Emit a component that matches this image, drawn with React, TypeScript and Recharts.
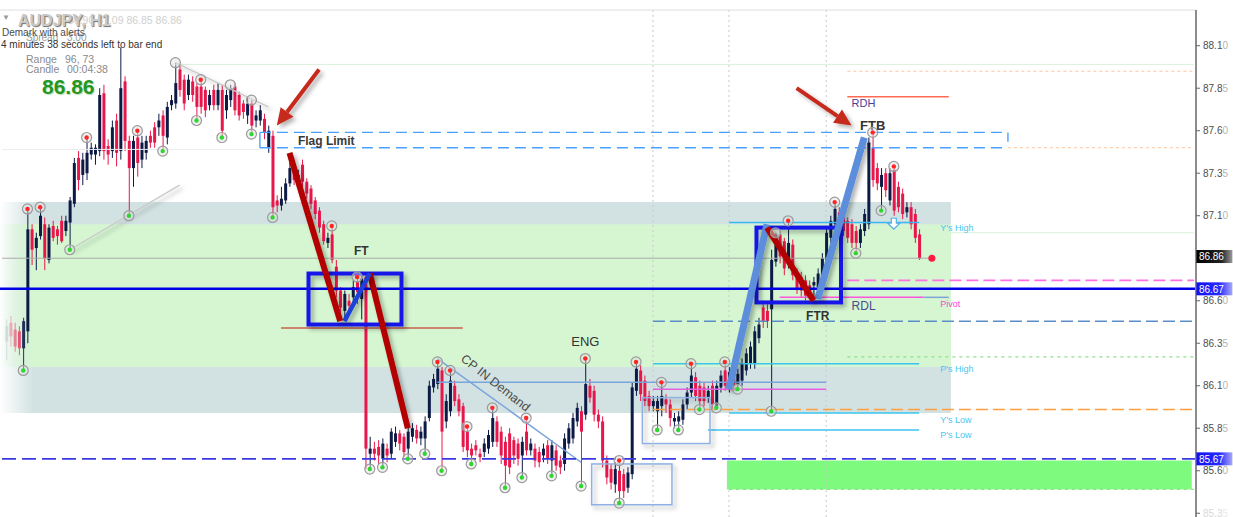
import React from 'react';
import {
  ComposedChart, Bar, Line, XAxis, YAxis,
  ReferenceArea, ReferenceLine, ReferenceDot,
} from 'recharts';

type Ohlc = [number, number, number, number]; // open, high, low, close

// AUDJPY H1 candles left to right
const leftRally: Ohlc[] = [
  [86.36, 86.49, 86.25, 86.45], [86.47, 86.51, 86.33, 86.39], [86.43, 86.47, 86.30, 86.33],
  [86.42, 86.45, 86.28, 86.32], [86.32, 86.50, 86.19, 86.48], [86.42, 87.14, 86.35, 87.02],
  [87.02, 87.05, 86.81, 86.90], [86.91, 87.00, 86.78, 86.97], [86.98, 87.15, 86.96, 87.10],
  [87.05, 87.09, 86.78, 86.85], [86.84, 87.05, 86.82, 87.03], [87.04, 87.07, 86.95, 86.97],
  [87.02, 87.04, 86.93, 86.98], [87.07, 87.10, 86.94, 86.95], [87.01, 87.10, 86.98, 87.07],
  [87.06, 87.21, 86.90, 87.19], [87.17, 87.44, 87.15, 87.41], [87.44, 87.48, 87.25, 87.31],
  [87.34, 87.47, 87.28, 87.43], [87.35, 87.56, 87.31, 87.47], [87.46, 87.53, 87.43, 87.50],
  [87.46, 87.52, 87.40, 87.50], [87.48, 87.85, 87.45, 87.81], [87.82, 87.87, 87.43, 87.48],
  [87.51, 87.55, 87.40, 87.46], [87.48, 87.66, 87.44, 87.62], [87.66, 87.70, 87.39, 87.47],
  [87.48, 88.09, 87.43, 87.85],
];

const topChop: Ohlc[] = [
  [87.89, 87.92, 87.48, 87.54], [87.54, 87.57, 87.10, 87.38], [87.38, 87.57, 87.27, 87.54],
  [87.56, 87.60, 87.33, 87.41], [87.43, 87.57, 87.38, 87.53], [87.47, 87.57, 87.43, 87.54],
  [87.57, 87.60, 87.50, 87.53], [87.62, 87.65, 87.50, 87.53], [87.62, 87.70, 87.57, 87.66],
  [87.69, 87.72, 87.48, 87.57], [87.56, 87.77, 87.52, 87.74], [87.75, 87.81, 87.72, 87.78],
  [87.76, 88.00, 87.73, 87.88], [87.96, 87.99, 87.80, 87.84], [87.90, 87.93, 87.72, 87.76],
  [87.81, 87.93, 87.78, 87.90], [87.89, 87.92, 87.77, 87.81], [87.86, 87.88, 87.66, 87.74],
  [87.86, 87.90, 87.70, 87.74], [87.84, 87.86, 87.68, 87.72], [87.75, 87.84, 87.72, 87.81],
  [87.84, 87.87, 87.72, 87.75], [87.75, 87.88, 87.72, 87.84], [87.84, 87.87, 87.56, 87.60],
  [87.72, 87.84, 87.67, 87.81], [87.78, 87.87, 87.74, 87.85], [87.86, 87.88, 87.69, 87.72],
  [87.81, 87.83, 87.66, 87.69], [87.76, 87.78, 87.67, 87.71], [87.69, 87.80, 87.64, 87.76],
  [87.76, 87.78, 87.58, 87.63], [87.66, 87.72, 87.62, 87.69], [87.66, 87.75, 87.63, 87.72],
  [87.67, 87.70, 87.55, 87.59], [87.50, 87.63, 87.47, 87.60],
];

const flagDrop: Ohlc[] = [
  [87.57, 87.60, 87.09, 87.15], [87.19, 87.22, 87.12, 87.16], [87.16, 87.27, 87.13, 87.20],
  [87.19, 87.32, 87.17, 87.29], [87.29, 87.42, 87.27, 87.38], [87.38, 87.42, 87.28, 87.31],
  [87.31, 87.37, 87.28, 87.34], [87.40, 87.43, 87.27, 87.30], [87.30, 87.32, 87.20, 87.23],
  [87.26, 87.28, 87.14, 87.17], [87.19, 87.21, 87.08, 87.11], [87.13, 87.15, 87.00, 87.03],
  [87.05, 87.07, 86.93, 86.95], [86.94, 87.00, 86.91, 86.97], [86.99, 87.04, 86.82, 86.84],
  [86.80, 86.84, 86.62, 86.66], [86.66, 86.68, 86.53, 86.56], [86.54, 86.66, 86.50, 86.64],
  [86.60, 86.64, 86.55, 86.57], [86.62, 86.72, 86.58, 86.68], [86.71, 86.74, 86.58, 86.65],
  [86.61, 86.76, 86.49, 86.73], [86.74, 86.77, 85.61, 85.73],
];

const demandBase: Ohlc[] = [
  [85.70, 85.80, 85.61, 85.73], [85.73, 85.77, 85.66, 85.70], [85.74, 85.78, 85.64, 85.69],
  [85.67, 85.79, 85.62, 85.76], [85.73, 85.76, 85.65, 85.69], [85.70, 85.85, 85.67, 85.83],
  [85.77, 85.86, 85.74, 85.82], [85.82, 85.84, 85.72, 85.76], [85.80, 85.82, 85.68, 85.71],
  [85.73, 85.86, 85.67, 85.83], [85.80, 85.88, 85.77, 85.85], [85.84, 85.87, 85.76, 85.79],
  [85.79, 85.86, 85.75, 85.83], [85.79, 85.92, 85.70, 85.89], [85.91, 86.13, 85.89, 86.10],
  [86.09, 86.17, 86.06, 86.14], [86.11, 86.24, 86.08, 86.20], [86.19, 86.21, 85.60, 85.83],
  [85.89, 86.05, 85.85, 86.01], [85.95, 86.19, 85.92, 86.13], [86.10, 86.13, 85.98, 86.01],
  [86.02, 86.05, 85.92, 85.95], [85.98, 86.00, 85.71, 85.74], [85.83, 85.86, 85.68, 85.72],
  [85.73, 85.76, 85.64, 85.69], [85.75, 85.78, 85.69, 85.72], [85.70, 85.73, 85.65, 85.68],
  [85.71, 85.79, 85.68, 85.76], [85.73, 85.84, 85.70, 85.81], [85.77, 85.97, 85.74, 85.91],
  [85.89, 85.92, 85.74, 85.77], [85.83, 85.86, 85.64, 85.69], [85.77, 85.80, 85.50, 85.63],
  [85.82, 85.85, 85.58, 85.62], [85.78, 85.80, 85.64, 85.69], [85.76, 85.79, 85.63, 85.67],
  [85.69, 85.80, 85.56, 85.77], [85.83, 85.91, 85.69, 85.72], [85.72, 85.79, 85.69, 85.76],
  [85.73, 85.76, 85.62, 85.66], [85.71, 85.74, 85.62, 85.65], [85.69, 85.76, 85.65, 85.73],
  [85.75, 85.78, 85.64, 85.67], [85.66, 85.78, 85.57, 85.75], [85.72, 85.75, 85.60, 85.63],
  [85.66, 85.69, 85.58, 85.62], [85.64, 85.82, 85.60, 85.79], [85.76, 85.88, 85.73, 85.85],
  [85.79, 85.94, 85.76, 85.91], [85.89, 86.00, 85.86, 85.97], [85.95, 85.98, 85.51, 85.83],
  [85.93, 86.26, 85.90, 86.11], [86.10, 86.14, 86.00, 86.03], [86.07, 86.10, 85.89, 85.93],
  [85.93, 85.96, 85.85, 85.89], [85.89, 85.92, 85.62, 85.66], [85.66, 85.69, 85.52, 85.56],
  [85.61, 85.64, 85.49, 85.53], [85.52, 85.65, 85.47, 85.61], [85.60, 85.66, 85.41, 85.48],
  [85.58, 85.61, 85.44, 85.48], [85.50, 85.62, 85.47, 85.59],
];

const reversal: Ohlc[] = [
  [85.58, 86.12, 85.55, 86.09], [86.07, 86.24, 86.04, 86.20], [86.19, 86.22, 86.01, 86.05],
  [86.13, 86.16, 85.98, 86.01], [86.04, 86.07, 85.95, 85.98], [85.98, 86.04, 85.95, 86.01],
  [85.95, 86.04, 85.84, 86.01], [85.98, 86.12, 85.92, 86.04], [86.02, 86.05, 85.94, 85.99],
  [85.99, 86.02, 85.86, 85.91], [85.89, 85.94, 85.85, 85.91], [85.89, 85.95, 85.84, 85.92],
  [85.90, 86.02, 85.87, 85.99], [85.99, 86.09, 85.96, 86.06], [86.06, 86.23, 86.03, 86.16],
  [86.15, 86.18, 86.01, 86.04], [86.10, 86.13, 85.96, 86.01], [86.09, 86.12, 85.98, 86.01],
  [86.03, 86.10, 86.00, 86.07], [86.10, 86.13, 85.96, 85.99], [85.98, 86.13, 85.97, 86.10],
  [86.09, 86.19, 86.06, 86.16], [86.19, 86.24, 86.07, 86.10], [86.09, 86.21, 86.06, 86.18],
  [86.16, 86.19, 86.07, 86.10], [86.11, 86.20, 86.08, 86.17], [86.13, 86.26, 86.10, 86.23],
  [86.19, 86.32, 86.16, 86.29], [86.23, 86.36, 86.20, 86.33], [86.23, 86.45, 86.20, 86.42],
  [86.38, 86.50, 86.35, 86.46], [86.56, 86.60, 86.44, 86.48], [86.54, 86.58, 86.44, 86.48],
];

const ftrRun: Ohlc[] = [
  [86.55, 86.90, 85.95, 86.84], [86.83, 87.00, 86.80, 86.99], [86.99, 87.01, 86.82, 86.86],
  [86.95, 86.97, 86.75, 86.79], [86.82, 87.07, 86.79, 86.94], [86.93, 86.96, 86.72, 86.75],
  [86.76, 86.79, 86.64, 86.67], [86.74, 86.77, 86.62, 86.66], [86.72, 86.75, 86.60, 86.63],
  [86.69, 86.72, 86.61, 86.65], [86.69, 86.74, 86.62, 86.71], [86.68, 86.79, 86.64, 86.76],
  [86.74, 86.88, 86.71, 86.85], [86.84, 87.03, 86.81, 87.00], [86.97, 87.10, 86.94, 87.07],
  [87.05, 87.18, 87.02, 87.14], [87.12, 87.15, 87.01, 87.04], [87.10, 87.12, 86.98, 87.01],
  [87.07, 87.09, 86.94, 86.97], [87.05, 87.08, 86.91, 86.94], [87.01, 87.04, 86.88, 86.94],
  [86.94, 87.05, 86.91, 87.02], [87.01, 87.14, 86.98, 87.11], [87.05, 87.56, 87.02, 87.53],
  [87.50, 87.59, 87.27, 87.31], [87.38, 87.41, 87.25, 87.29], [87.27, 87.38, 87.13, 87.34],
  [87.35, 87.38, 87.21, 87.25], [87.19, 87.38, 87.16, 87.35], [87.37, 87.39, 87.10, 87.13],
  [87.27, 87.30, 87.12, 87.15], [87.23, 87.26, 87.08, 87.11], [87.12, 87.18, 87.09, 87.15],
  [87.15, 87.18, 87.02, 87.05], [87.11, 87.14, 86.94, 86.97], [86.99, 87.02, 86.84, 86.85],
];

const candles: Ohlc[] = [...leftRally, ...topChop, ...flagDrop, ...demandBase, ...reversal, ...ftrRun];

// fractal markers, by bar index
const fractalHighs = [6, 9, 20, 32, 47, 78, 84, 103, 106, 110, 116, 124, 138, 146, 150, 156, 163, 171, 186, 197, 206, 211];
const fractalLows = [5, 16, 30, 38, 46, 52, 59, 64, 87, 90, 96, 100, 104, 111, 119, 123, 130, 137, 146, 155, 160, 165, 169, 174, 182, 202, 208];
const ringHighs = [41, 54, 59, 183];

// 86.85 sits behind the last-price tag, so it is left out
const priceTicks = [85.35, 85.6, 85.85, 86.1, 86.35, 86.6, 87.1, 87.35, 87.6, 87.85, 88.1];
const lastPrice = 86.86;
const mainLevel = 86.67;
const lowLevel = 85.67;

const SLOTS = 283; // chart shift leaves empty bars on the right

const rows = Array.from({ length: SLOTS }, (_, i) => {
  const k = candles[i - 1];
  if (i < 1 || !k) return { i };
  const [o, h, l, c] = k;
  return {
    i, o, h, l, c,
    range: [l, h],
    fhi: fractalHighs.includes(i) ? h : null,
    flo: fractalLows.includes(i) ? l : null,
    fring: ringHighs.includes(i) ? h : null,
  };
});

// drawn objects (bar index, price)
const zones = [
  { x1: 0, x2: 224, y1: 85.94, y2: 87.18, fill: 'url(#zoneGray)' },
  { x1: 0, x2: 224, y1: 86.21, y2: 87.05, fill: 'url(#zoneGreen)' },
  { x1: 172, x2: 281, y1: 85.49, y2: 85.66, fill: '#7efb7e' },
];

type Seg = { from: [number, number]; to: [number, number]; color: string; w: number; dash?: string; shadow?: boolean };

const thinLines: Seg[] = [
  { from: [0, 86.85], to: [220, 86.85], color: '#a9a9a9', w: 1 },
  { from: [0, 87.49], to: [61, 87.49], color: '#ececec', w: 1 },
  { from: [41, 87.99], to: [282, 87.99], color: '#d9f1d9', w: 1 },
  { from: [224, 87.0], to: [282, 87.0], color: '#d9f1d9', w: 1 },
  { from: [200, 87.95], to: [282, 87.95], color: '#ffc39a', w: 1, dash: '3 3' },
  { from: [238, 87.5], to: [282, 87.5], color: '#ffc39a', w: 1, dash: '3 3' },
  { from: [200, 87.8], to: [224, 87.8], color: '#ff6a55', w: 1.5 },
  { from: [200, 86.72], to: [282, 86.72], color: '#ff70e0', w: 1.6, dash: '12 5' },
  { from: [184, 86.62], to: [218, 86.62], color: '#ff55dd', w: 1.5 },
  { from: [218, 86.62], to: [224, 86.62], color: '#7fa4d6', w: 1.5 },
  { from: [154, 86.48], to: [282, 86.48], color: '#5a8dc8', w: 1.5, dash: '12 5' },
  { from: [200, 86.27], to: [282, 86.27], color: '#8fdf8f', w: 1.2, dash: '3 4' },
  { from: [172, 87.06], to: [217, 87.06], color: '#3cb8f0', w: 1.5 },
  { from: [154, 86.23], to: [217, 86.23], color: '#3cc4f0', w: 1.5 },
  { from: [172, 85.94], to: [217, 85.94], color: '#3cc4f0', w: 1.5 },
  { from: [167, 85.84], to: [217, 85.84], color: '#3cc4f0', w: 1.5 },
  { from: [154, 85.96], to: [282, 85.96], color: '#ffa040', w: 1.6, dash: '12 5' },
  { from: [172, 85.49], to: [282, 85.49], color: '#8fdf8f', w: 1.2, dash: '3 4' },
  { from: [66, 86.44], to: [109, 86.44], color: '#c8604c', w: 1.5 },
  { from: [103, 86.12], to: [195, 86.12], color: '#7aa4dc', w: 1.5 },
  { from: [154, 86.08], to: [195, 86.08], color: '#e060e0', w: 1.5 },
  { from: [103, 86.26], to: [137, 85.65], color: '#7aa4dc', w: 1.5 },
  { from: [41, 88.0], to: [63, 87.74], color: '#c9c9c9', w: 1.3, shadow: true },
  { from: [16, 86.9], to: [42, 87.28], color: '#c9c9c9', w: 1.3, shadow: true },
  { from: [61, 87.59], to: [238, 87.59], color: '#4aa0ff', w: 1.4, dash: '11 6' },
  { from: [61, 87.5], to: [238, 87.5], color: '#4aa0ff', w: 1.4, dash: '11 6' },
  { from: [61, 87.59], to: [61, 87.5], color: '#4aa0ff', w: 1.4 },
  { from: [238, 87.59], to: [238, 87.535], color: '#4aa0ff', w: 1.4 },
];

const boldLines: Seg[] = [
  { from: [68, 87.47], to: [80, 86.48], color: '#b30000', w: 6, shadow: true },
  { from: [87, 86.76], to: [96, 85.85], color: '#b30000', w: 6, shadow: true },
  { from: [81, 86.48], to: [87, 86.76], color: '#1b3fd8', w: 4.5, shadow: true },
  { from: [172, 86.08], to: [181, 87.05], color: '#5b8edb', w: 7, shadow: true },
  { from: [193, 86.61], to: [204, 87.56], color: '#5b8edb', w: 7, shadow: true },
  { from: [181, 87.03], to: [192, 86.6], color: '#b30000', w: 6, shadow: true },
];

const boxes = [
  { x1: 73, x2: 94, y1: 86.46, y2: 86.76, color: '#1212e8', w: 4 },
  { x1: 179, x2: 198, y1: 86.59, y2: 87.03, color: '#1212e8', w: 4 },
  { x1: 140, x2: 158, y1: 85.4, y2: 85.64, color: '#8db1e2', w: 1.5 },
  { x1: 152, x2: 167, y1: 85.76, y2: 86.03, color: '#8db1e2', w: 1.5 },
];

const arrows = [
  { from: [75, 87.96], to: [65, 87.63] },
  { from: [188, 87.85], to: [201, 87.63] },
];

const daySeparators = [154, 172, 195];

type Note = { at: [number, number]; text: string; color: string; size: number; anchor?: 'start' | 'middle'; bold?: boolean; rotate?: number };
const notes: Note[] = [
  { at: [70, 87.54], text: 'Flag Limit', color: '#383838', size: 12, anchor: 'start', bold: true },
  { at: [85, 86.895], text: 'FT', color: '#333', size: 12, bold: true },
  { at: [138, 86.36], text: 'ENG', color: '#333', size: 13 },
  { at: [206, 87.63], text: 'FTB', color: '#333', size: 13, bold: true },
  { at: [193, 86.51], text: 'FTR', color: '#333', size: 12, bold: true },
  { at: [201, 86.57], text: 'RDL', color: '#4b4b8f', size: 12, anchor: 'start' },
  { at: [201, 87.76], text: 'RDH', color: '#4b3c9a', size: 11, anchor: 'start' },
  { at: [222, 86.58], text: 'Pivot', color: '#ff44d4', size: 9, anchor: 'start' },
  { at: [222, 87.03], text: "Y's High", color: '#4cc6f0', size: 9, anchor: 'start' },
  { at: [222, 86.2], text: "P's High", color: '#4cc6f0', size: 9, anchor: 'start' },
  { at: [222, 85.9], text: "Y's Low", color: '#4cc6f0', size: 9, anchor: 'start' },
  { at: [222, 85.81], text: "P's Low", color: '#4cc6f0', size: 9, anchor: 'start' },
  { at: [109, 86.27], text: 'CP IN Demand', color: '#4a4a4a', size: 12.5, anchor: 'start', rotate: 38 },
];

const axisTags = [
  { price: lastPrice, fill: 'url(#tagBlack)' },
  { price: mainLevel, fill: 'url(#tagBlue)' },
  { price: lowLevel, fill: 'url(#tagBlue)' },
];

const FONT = "'Liberation Sans', Arial, sans-serif";

const Candle = (props: any) => {
  const { x, y, width, height, payload } = props;
  if (!payload || payload.o == null) return <g />;
  const top = Math.min(y, y + height);
  const hh = Math.abs(height);
  const span = payload.h - payload.l || 1;
  const py = (p: number) => top + ((payload.h - p) / span) * hh;
  const bull = payload.c >= payload.o;
  const col = bull ? '#0d1a45' : '#e8174b';
  const cx = x + width / 2;
  const yo = py(payload.o);
  const yc = py(payload.c);
  const op = Math.min(1, Math.max(0.12, (cx - 4) / 22));
  return (
    <g opacity={op}>
      <line x1={cx} x2={cx} y1={top} y2={top + hh} stroke={col} strokeWidth={1} />
      <rect x={x} y={Math.min(yo, yc)} width={width} height={Math.max(1, Math.abs(yo - yc))} fill={col} />
    </g>
  );
};

const fractalDot = (color: string | null) => (p: any) => {
  const { cx, cy, value, index } = p;
  if (value == null || cx == null || cy == null) return <g key={index} />;
  return (
    <g key={index}>
      <circle cx={cx} cy={cy} r={5} fill="rgba(225,225,225,0.45)" stroke="#9a9a9a" strokeWidth={1.2} />
      {color && <circle cx={cx} cy={cy} r={2.2} fill={color} />}
    </g>
  );
};

const lineShape = (s: Seg) => (p: any) => (
  <line x1={p.x1} y1={p.y1} x2={p.x2} y2={p.y2} stroke={s.color} strokeWidth={s.w}
    strokeDasharray={s.dash} filter={s.shadow ? 'url(#drop)' : undefined} />
);

const arrowShape = (p: any) => {
  const { x1, y1, x2, y2 } = p;
  const a = Math.atan2(y2 - y1, x2 - x1);
  const L = 17;
  const W = 8;
  const bx = x2 - L * Math.cos(a);
  const by = y2 - L * Math.sin(a);
  const nx = -Math.sin(a) * W;
  const ny = Math.cos(a) * W;
  return (
    <g filter="url(#drop)">
      <line x1={x1} y1={y1} x2={bx} y2={by} stroke="#c62a1e" strokeWidth={4} />
      <polygon points={`${x2},${y2} ${bx + nx},${by + ny} ${bx - nx},${by - ny}`} fill="#c62a1e" />
    </g>
  );
};

const PriceTick = (p: any) => {
  const { x, y, payload } = p;
  const s = Number(payload.value).toFixed(2);
  const faded = payload.value < 85.4;
  return (
    <text x={x} y={y} dy={3.5} fontSize={10} fontFamily={FONT} textAnchor="start">
      <tspan fill={faded ? '#d9d9d9' : '#4e4e4e'}>{s.slice(0, 4)}</tspan>
      <tspan fill={faded ? '#ebebeb' : '#b3b3b3'}>{s.slice(4)}</tspan>
    </text>
  );
};

const infoText: { text: string; left: number; top: number; size: number; color: string; bold?: boolean; shadow?: string }[] = [
  { text: 'Spread', left: 26, top: 33, size: 10, color: '#9a9a9a' },
  { text: '3.00', left: 67, top: 33, size: 10, color: '#9a9a9a' },
  { text: '86.90 87.09 86.85 86.86', left: 68, top: 15, size: 10.5, color: '#cfcfcf' },
  { text: 'AUDJPY, H1', left: 18, top: 13, size: 16, color: '#cacaca', bold: true, shadow: '1px 1px 1px #6f6f6f' },
  { text: 'Demark with alerts', left: 2, top: 28, size: 10, color: '#4a4a4a' },
  { text: '4 minutes 38 seconds left to bar end', left: 1, top: 40, size: 10, color: '#333' },
  { text: 'Range', left: 26, top: 54, size: 10.5, color: '#8a8a8a' },
  { text: '96, 73', left: 65, top: 54, size: 10.5, color: '#8a8a8a' },
  { text: 'Candle', left: 26, top: 64, size: 10.5, color: '#8a8a8a' },
  { text: '00:04:38', left: 67, top: 64, size: 10.5, color: '#8a8a8a' },
  { text: '86.86', left: 42, top: 76, size: 21, color: '#249624', bold: true, shadow: '1px 1px 1px #b5d8b5' },
];

export default function App() {
  return (
    <div style={{ position: 'absolute', left: 0, top: 0, width: 1233, height: 517, background: '#fff', overflow: 'hidden', fontFamily: FONT }}>
      <svg width={0} height={0} style={{ position: 'absolute' }}>
        <defs>
          <linearGradient id="zoneGray" x1="0" y1="0" x2="1" y2="0">
            <stop offset="0" stopColor="#d2e2e2" stopOpacity="0" />
            <stop offset="0.035" stopColor="#d2e2e2" stopOpacity="1" />
            <stop offset="1" stopColor="#d2e2e2" stopOpacity="1" />
          </linearGradient>
          <linearGradient id="zoneGreen" x1="0" y1="0" x2="1" y2="0">
            <stop offset="0" stopColor="#d5f6d1" stopOpacity="0" />
            <stop offset="0.035" stopColor="#d5f6d1" stopOpacity="1" />
            <stop offset="1" stopColor="#d5f6d1" stopOpacity="1" />
          </linearGradient>
          <linearGradient id="tagBlack" x1="0" y1="0" x2="1" y2="0">
            <stop offset="0" stopColor="#000" />
            <stop offset="0.7" stopColor="#222" />
            <stop offset="1" stopColor="#9a9a9a" />
          </linearGradient>
          <linearGradient id="tagBlue" x1="0" y1="0" x2="1" y2="0">
            <stop offset="0" stopColor="#1010f0" />
            <stop offset="0.65" stopColor="#2a2aff" />
            <stop offset="1" stopColor="#a8a8ff" />
          </linearGradient>
          <filter id="drop" filterUnits="userSpaceOnUse" x="-20" y="-20" width="1300" height="600">
            <feDropShadow dx="3" dy="3" stdDeviation="2" floodColor="#000" floodOpacity="0.3" />
          </filter>
        </defs>
      </svg>

      <ComposedChart width={1233} height={517} data={rows} margin={{ top: 10, right: 0, bottom: 0, left: 0 }}>
        <XAxis dataKey="i" type="category" hide interval={0} />
        <YAxis
          orientation="right"
          domain={[85.328, 88.31]}
          ticks={priceTicks}
          allowDataOverflow
          interval={0}
          width={37}
          axisLine={{ stroke: '#8c8c8c', strokeWidth: 2 }}
          tickLine={{ stroke: '#666' }}
          tickSize={4}
          tickMargin={3}
          tick={<PriceTick />}
        />

        {zones.map((z, k) => (
          <ReferenceArea key={`z${k}`} x1={z.x1} x2={z.x2} y1={z.y1} y2={z.y2} fill={z.fill} fillOpacity={1} stroke="none" ifOverflow="visible" zIndex={-50} />
        ))}
        {daySeparators.map((d) => (
          <ReferenceLine key={`d${d}`} x={d} stroke="#c9c9c9" strokeDasharray="2 3" zIndex={-40} />
        ))}
        <ReferenceLine y={88.31} stroke="#dedede" zIndex={-40} />

        <Bar dataKey="range" barSize={3} isAnimationActive={false} shape={(p: any) => <Candle {...p} />} />

        {thinLines.map((s, k) => (
          <ReferenceLine key={`t${k}`} segment={[{ x: s.from[0], y: s.from[1] }, { x: s.to[0], y: s.to[1] }]} shape={lineShape(s)} ifOverflow="visible" zIndex={450} />
        ))}
        <ReferenceLine y={mainLevel} stroke="#0000e6" strokeWidth={2.5} zIndex={455} />
        <ReferenceLine y={lowLevel} stroke="#3a3ae2" strokeWidth={1.8} strokeDasharray="14 6" zIndex={455} />

        {boxes.map((b, k) => (
          <ReferenceArea key={`b${k}`} x1={b.x1} x2={b.x2} y1={b.y1} y2={b.y2} ifOverflow="visible" zIndex={460}
            shape={(p: any) => (
              <rect x={p.x} y={p.y} width={p.width} height={p.height} fill="none" stroke={b.color} strokeWidth={b.w} filter="url(#drop)" />
            )} />
        ))}
        {boldLines.map((s, k) => (
          <ReferenceLine key={`s${k}`} segment={[{ x: s.from[0], y: s.from[1] }, { x: s.to[0], y: s.to[1] }]} shape={lineShape(s)} ifOverflow="visible" zIndex={470} />
        ))}

        <Line dataKey="fhi" stroke="none" isAnimationActive={false} activeDot={false} dot={fractalDot('#ff2525')} zIndex={480} />
        <Line dataKey="flo" stroke="none" isAnimationActive={false} activeDot={false} dot={fractalDot('#2fd62f')} zIndex={480} />
        <Line dataKey="fring" stroke="none" isAnimationActive={false} activeDot={false} dot={fractalDot(null)} zIndex={480} />

        {arrows.map((a, k) => (
          <ReferenceLine key={`a${k}`} segment={[{ x: a.from[0], y: a.from[1] }, { x: a.to[0], y: a.to[1] }]} shape={arrowShape} ifOverflow="visible" zIndex={490} />
        ))}

        <ReferenceDot x={211} y={87.05} ifOverflow="visible" zIndex={490}
          shape={(p: any) => (
            <path d={`M${p.cx - 2.5},${p.cy - 6} h5 v5 h3.5 l-6,6 l-6,-6 h3.5 z`} fill="#fff" stroke="#55aee8" strokeWidth={1.2} />
          )} />
        <ReferenceDot x={220} y={86.85} ifOverflow="visible" zIndex={490}
          shape={(p: any) => <circle cx={p.cx} cy={p.cy} r={3.5} fill="#ff1a40" />} />

        {notes.map((n, k) => (
          <ReferenceDot key={`n${k}`} x={n.at[0]} y={n.at[1]} ifOverflow="visible" zIndex={500}
            shape={(p: any) => (
              <text x={p.cx} y={p.cy} dy={n.size * 0.36} fontSize={n.size} fontFamily={FONT} fill={n.color}
                fontWeight={n.bold ? 'bold' : 'normal'} textAnchor={n.anchor || 'middle'}
                transform={n.rotate ? `rotate(${n.rotate} ${p.cx} ${p.cy})` : undefined}>
                {n.text}
              </text>
            )} />
        ))}

        {axisTags.map((t, k) => (
          <ReferenceDot key={`g${k}`} x={282} y={t.price} ifOverflow="visible" zIndex={510}
            shape={(p: any) => (
              <g>
                <rect x={p.cx + 2.5} y={p.cy - 6.5} width={36} height={13} fill={t.fill} />
                <text x={p.cx + 5} y={p.cy + 3.7} fontSize={10} fontFamily={FONT} fill="#fff">{t.price.toFixed(2)}</text>
              </g>
            )} />
        ))}
      </ComposedChart>

      <span style={{ position: 'absolute', left: 2, top: 14, fontSize: 8, color: '#9a9a9a', lineHeight: 1 }}>▼</span>
      {infoText.map((t, k) => (
        <span key={k} style={{
          position: 'absolute', left: t.left, top: t.top, fontSize: t.size, lineHeight: 1, whiteSpace: 'nowrap',
          color: t.color, fontWeight: t.bold ? 'bold' : 'normal', textShadow: t.shadow, fontFamily: FONT,
        }}>{t.text}</span>
      ))}
    </div>
  );
}
